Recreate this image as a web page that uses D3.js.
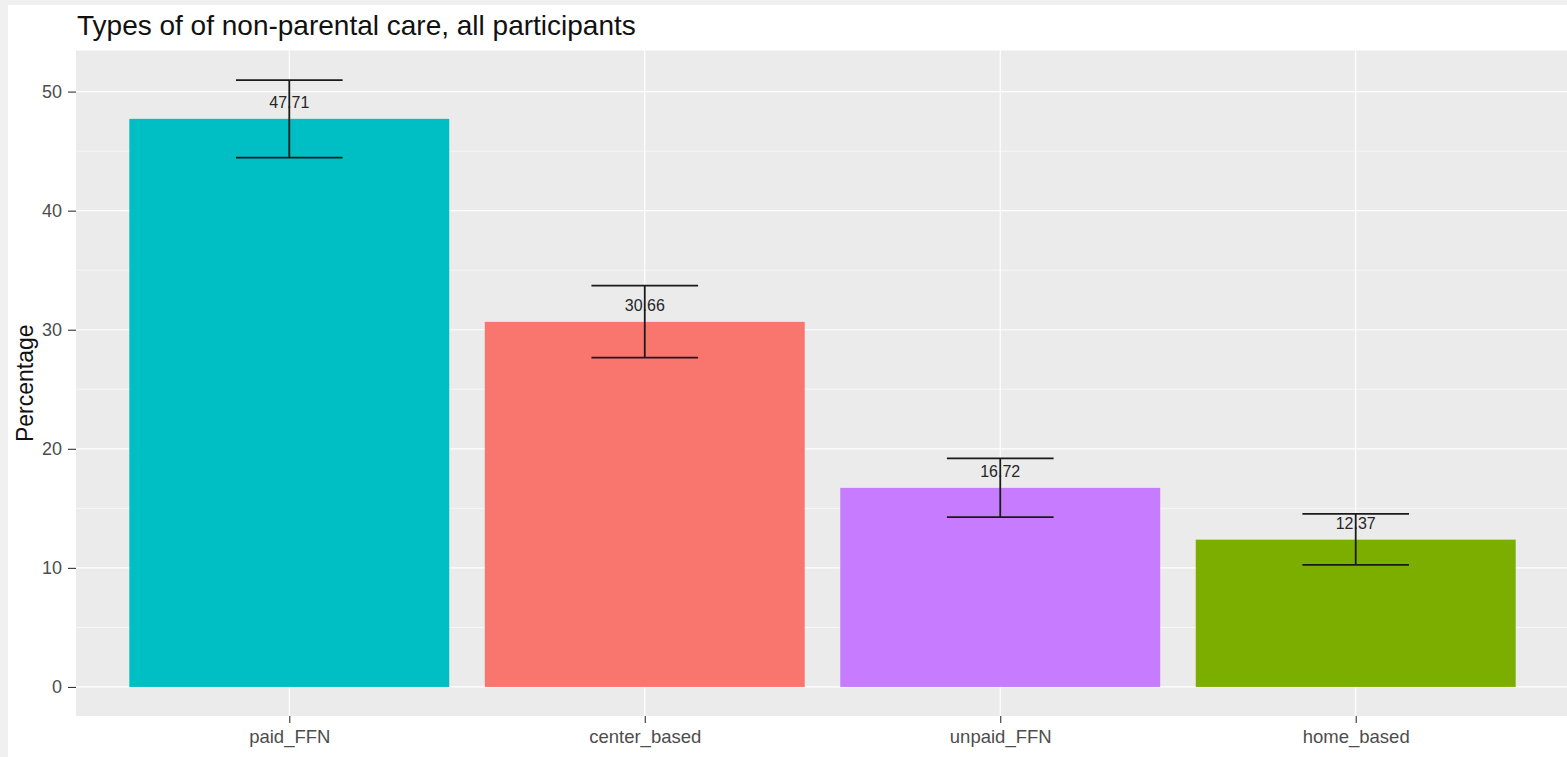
<!DOCTYPE html>
<html><head><meta charset="utf-8">
<script src="https://cdn.jsdelivr.net/npm/d3@7"></script>
<style>
html,body{margin:0;padding:0;background:#fff;}
svg{display:block;font-family:"Liberation Sans",Arial,sans-serif;}
</style></head>
<body>
<svg id="chart" width="1567" height="757"></svg>
<script>
const categories = ["paid_FFN", "center_based", "unpaid_FFN", "home_based"];
const percentages = [47.71, 30.66, 16.72, 12.37];
const lowerCI = [44.45, 27.65, 14.26, 10.25];
const upperCI = [50.97, 33.70, 19.20, 14.54];
const barColors = ["#00BFC4", "#F8766D", "#C77CFF", "#7CAE00"];
const yTicks = [0, 10, 20, 30, 40, 50];
const yMinorTicks = [5, 15, 25, 35, 45];
const labels = ["47.71", "30.66", "16.72", "12.37"];

const svg = d3.select("#chart");
const W = 1567, H = 757;
const panel = {left: 76, right: 1569, top: 50.5, bottom: 716};

// outer light frame
svg.append("rect").attr("x",0).attr("y",0).attr("width",W).attr("height",H).attr("fill","#f0f0f0");
svg.append("rect").attr("x",8).attr("y",5).attr("width",W-8).attr("height",H-5).attr("fill","#ffffff");

const x = d3.scalePoint().domain(categories).range([panel.left, panel.right]).padding(0.6);
const step = x.step();
const y = d3.scaleLinear().domain([-2.44, 53.45]).range([panel.bottom, panel.top]);

// panel
svg.append("rect").attr("x",panel.left).attr("y",panel.top)
  .attr("width",panel.right-panel.left).attr("height",panel.bottom-panel.top).attr("fill","#EBEBEB");

const grid = svg.append("g");
grid.selectAll(".minor").data(yMinorTicks).join("line")
  .attr("x1",panel.left).attr("x2",panel.right)
  .attr("y1",d=>y(d)).attr("y2",d=>y(d))
  .attr("stroke","#fff").attr("stroke-width",0.6);
grid.selectAll(".major").data(yTicks).join("line")
  .attr("x1",panel.left).attr("x2",panel.right)
  .attr("y1",d=>y(d)).attr("y2",d=>y(d))
  .attr("stroke","#fff").attr("stroke-width",1.2);
grid.selectAll(".vmajor").data(categories).join("line")
  .attr("x1",d=>x(d)).attr("x2",d=>x(d))
  .attr("y1",panel.top).attr("y2",panel.bottom)
  .attr("stroke","#fff").attr("stroke-width",1.2);

// bars
const bw = step*0.9;
svg.append("g").selectAll("rect").data(categories).join("rect")
  .attr("x",d=>x(d)-bw/2).attr("width",bw)
  .attr("y",(d,i)=>y(percentages[i]))
  .attr("height",(d,i)=>y(0)-y(percentages[i]))
  .attr("fill",(d,i)=>barColors[i]);

// labels
svg.append("g").selectAll("text").data(categories).join("text")
  .attr("x",d=>x(d)).attr("y",(d,i)=>y(percentages[i])-10.5)
  .attr("text-anchor","middle").attr("font-size",16).attr("fill","#262626")
  .text((d,i)=>labels[i]);

// error bars
const ew = step*0.3;
const eb = svg.append("g").attr("stroke","#1a1a1a").attr("stroke-width",1.8).attr("fill","none");
categories.forEach((c,i)=>{
  eb.append("line").attr("x1",x(c)).attr("x2",x(c)).attr("y1",y(lowerCI[i])).attr("y2",y(upperCI[i]));
  eb.append("line").attr("x1",x(c)-ew/2).attr("x2",x(c)+ew/2).attr("y1",y(lowerCI[i])).attr("y2",y(lowerCI[i]));
  eb.append("line").attr("x1",x(c)-ew/2).attr("x2",x(c)+ew/2).attr("y1",y(upperCI[i])).attr("y2",y(upperCI[i]));
});

// axes
const yAxis = d3.axisLeft(y).tickValues(yTicks).tickSize(8).tickPadding(6).tickFormat(d3.format("d"));
const gy = svg.append("g").attr("transform",`translate(${panel.left},0)`).call(yAxis);
gy.select(".domain").remove();
gy.selectAll(".tick line").attr("stroke","#333").attr("stroke-width",1.1);
gy.selectAll(".tick text").attr("font-size",18).attr("fill","#4D4D4D").attr("font-family","Liberation Sans, Arial, sans-serif");

const xAxis = d3.axisBottom(x).tickSize(7).tickPadding(7);
const gx = svg.append("g").attr("transform",`translate(0,${panel.bottom})`).call(xAxis);
gx.select(".domain").remove();
gx.selectAll(".tick line").attr("stroke","#333").attr("stroke-width",1.1);
gx.selectAll(".tick text").attr("font-size",18.5).attr("fill","#4D4D4D").attr("font-family","Liberation Sans, Arial, sans-serif");

// titles
svg.append("text").attr("x",77).attr("y",34.5).attr("font-size",28).attr("fill","#111")
  .text("Types of of non-parental care, all participants");
svg.append("text").attr("transform",`translate(32.5,${(panel.top+panel.bottom)/2}) rotate(-90)`)
  .attr("text-anchor","middle").attr("font-size",23).attr("fill","#111").text("Percentage");
</script>
</body></html>
